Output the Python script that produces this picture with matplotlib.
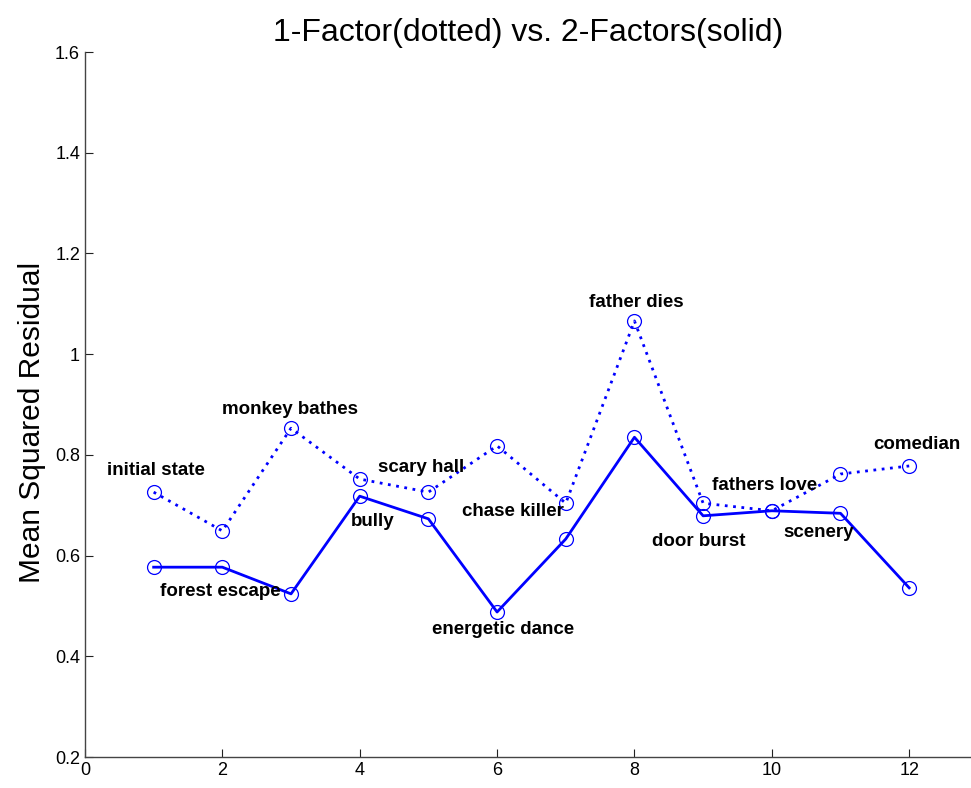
import matplotlib
matplotlib.use("Agg")
import matplotlib.pyplot as plt

# scene index
scenes = [1, 2, 3, 4, 5, 6, 7, 8, 9, 10, 11, 12]
# mean squared residual, 1-factor model (dotted)
one_factor = [0.726, 0.649, 0.853, 0.752, 0.726, 0.818, 0.704, 1.066, 0.704, 0.689, 0.762, 0.778]
# mean squared residual, 2-factor model (solid)
two_factor = [0.577, 0.577, 0.524, 0.718, 0.673, 0.488, 0.633, 0.835, 0.679, 0.689, 0.684, 0.536]

labels = ["initial state", "forest escape", "monkey bathes", "bully", "scary hall",
          "energetic dance", "chase killer", "father dies", "door burst",
          "fathers love", "scenery", "comedian"]
# where each label sits (data coords)
label_x = [1.04, 1.975, 2.98, 4.19, 4.90, 6.09, 6.23, 8.02, 8.93, 9.89, 10.68, 12.11]
label_y = [0.768, 0.528, 0.891, 0.667, 0.774, 0.454, 0.688, 1.103, 0.627, 0.740, 0.645, 0.820]

plt.rcParams['font.family'] = ['Liberation Sans', 'DejaVu Sans']

fig = plt.figure(figsize=(9.71, 7.88), dpi=100)
ax = fig.add_axes([0.0875, 0.0393, 0.9125, 0.8947])

blue = "#0000ff"
ax.plot(scenes, one_factor, color=blue, lw=2, linestyle=(0, (1, 2)))
ax.plot(scenes, one_factor, linestyle="none", marker="o", ms=10, mfc="none",
        mec=blue, mew=0.9)
ax.plot(scenes, two_factor, color=blue, lw=2, marker="o", ms=10, mfc="none",
        mec=blue, mew=0.9)

for lx, ly, txt in zip(label_x, label_y, labels):
    ax.text(lx, ly, txt, ha="center", va="center", fontsize=13.5, fontweight="bold")

ax.set_xlim(0, 12.9)
ax.set_ylim(0.2, 1.6)
ax.set_xticks([0, 2, 4, 6, 8, 10, 12])
ax.set_yticks([0.2, 0.4, 0.6, 0.8, 1.0, 1.2, 1.4, 1.6])
ax.set_yticklabels(["0.2", "0.4", "0.6", "0.8", "1", "1.2", "1.4", "1.6"])

ax.spines["top"].set_visible(False)
ax.spines["right"].set_visible(False)
for s in ["left", "bottom"]:
    ax.spines[s].set_color("#444444")
    ax.spines[s].set_linewidth(1)
ax.tick_params(direction="in", length=6, width=0.8, labelsize=13, color="#222222")

ax.set_ylabel("Mean Squared Residual", fontsize=21.5)
ax.yaxis.set_label_coords(-0.044, 0.475)
ax.set_title("1-Factor(dotted) vs. 2-Factors(solid)", fontsize=23, pad=8)

fig.savefig("out.png", dpi=100)
